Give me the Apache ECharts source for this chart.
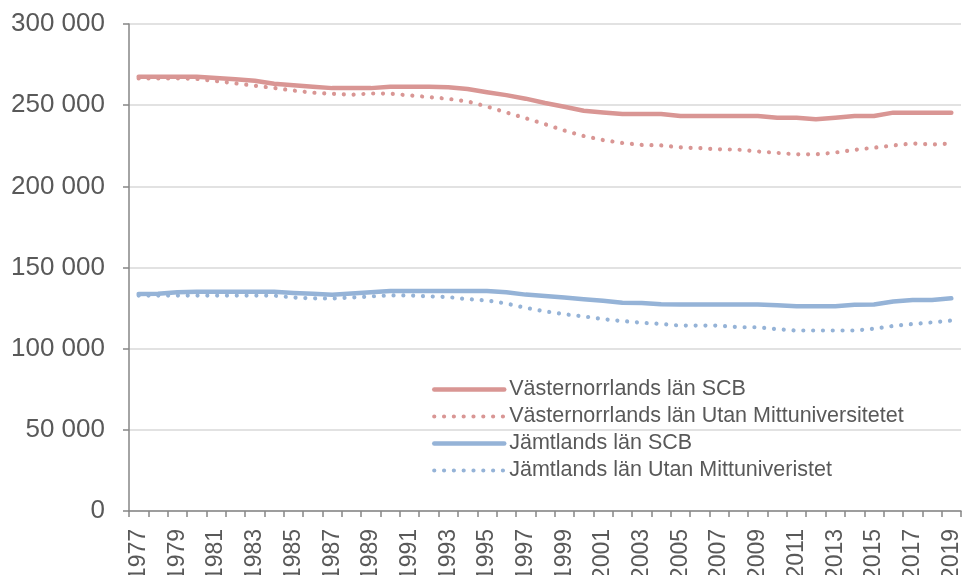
<!DOCTYPE html>
<html>
<head>
<meta charset="utf-8">
<script src="https://cdn.jsdelivr.net/npm/echarts@6/dist/echarts.min.js"></script>
<style>
html, body { margin: 0; padding: 0; background: #fff; }
#chart { width: 965px; height: 575px; }
</style>
</head>
<body>
<div id="chart"></div>
<script>
// år 1977-2019
var years = []
for (var y = 1977; y <= 2019; y++) {
    years.push(String(y))
}

var vnSCB = [267500, 267500, 267500, 267500, 266800, 266000, 265000, 263200, 262300, 261300,
    260500, 260500, 260500, 261400, 261400, 261400, 261000, 260000, 258000, 256200,
    254000, 251300, 249000, 246600, 245500, 244500, 244500, 244500, 243300, 243300,
    243300, 243300, 243300, 242300, 242300, 241300, 242300, 243300, 243300, 245400,
    245400, 245400, 245400]

var vnUtan = [266500, 266500, 266500, 266200, 264800, 263500, 262000, 260600, 259000, 257700,
    257000, 256400, 257200, 257100, 256000, 255000, 253900, 252300, 249200, 245500,
    242000, 238300, 234400, 231000, 228500, 226700, 225500, 225200, 224000, 223500,
    222800, 222600, 221500, 220600, 219700, 219700, 220800, 222500, 223800, 225200,
    226400, 225800, 226400]

var jtSCB = [133700, 133900, 134800, 135000, 135000, 135000, 135000, 135000, 134300, 133800,
    133200, 134000, 134800, 135500, 135600, 135600, 135600, 135600, 135500, 134800,
    133300, 132500, 131500, 130500, 129500, 128300, 128200, 127300, 127200, 127200,
    127200, 127200, 127200, 126800, 126200, 126100, 126100, 127000, 127200, 129000,
    130000, 130000, 131000]

var jtUtan = [132700, 132700, 132700, 132700, 132700, 132700, 132700, 132700, 131500, 131000,
    130900, 131500, 132200, 132800, 132800, 132200, 131800, 130500, 129700, 127800,
    125200, 123000, 121200, 119900, 118200, 117000, 116000, 115200, 114200, 114200,
    114200, 113200, 113200, 112000, 111200, 111200, 111200, 111200, 112300, 114000,
    115200, 116200, 117300]

var names = ['Västernorrlands län SCB', 'Västernorrlands län Utan Mittuniversitetet',
    'Jämtlands län SCB', 'Jämtlands län Utan Mittuniveristet']

var red = '#D99694'
var blue = '#95B3D7'
var textColor = '#595959'
var font = 'Liberation Sans, Arial, sans-serif'

var solidStyle = function(color) {
    return { color: color, width: 4.5, type: 'solid', cap: 'round', join: 'round' }
}
var dotStyle = function(color) {
    return { color: color, width: 4.2, type: [0.01, 9.8], cap: 'round' }
}

function line(name, data, style, z) {
    return {
        name: name,
        type: 'line',
        data: data,
        symbol: 'none',
        smooth: false,
        z: z,
        lineStyle: style,
        itemStyle: { color: style.color }
    }
}

var chart = echarts.init(document.getElementById('chart'), null, { renderer: 'canvas' })

chart.setOption({
    animation: false,
    backgroundColor: '#fff',
    textStyle: { fontFamily: font },
    grid: { left: 129, right: 4, top: 24, bottom: 64, containLabel: false, outerBoundsMode: 'none' },
    legend: {
        orient: 'vertical',
        left: 427,
        top: 371,
        itemWidth: 70,
        itemHeight: 14,
        itemGap: 0,
        itemStyle: { opacity: 0 },
        data: [
            { name: names[0], lineStyle: solidStyle(red) },
            { name: names[1], lineStyle: dotStyle(red) },
            { name: names[2], lineStyle: solidStyle(blue) },
            { name: names[3], lineStyle: dotStyle(blue) }
        ],
        textStyle: { color: textColor, fontSize: 21.5, fontFamily: font, lineHeight: 27 }
    },
    xAxis: {
        type: 'category',
        data: years,
        boundaryGap: true,
        axisLine: { lineStyle: { color: '#868686', width: 1.5 } },
        axisTick: { show: true, length: 6, interval: 0, alignWithLabel: false, lineStyle: { color: '#868686', width: 1.5 } },
        axisLabel: { interval: 1, rotate: 90, margin: 18, color: textColor, fontSize: 23, fontFamily: font },
        splitLine: { show: false }
    },
    yAxis: {
        type: 'value',
        min: 0,
        max: 300000,
        interval: 50000,
        axisLine: { show: true, lineStyle: { color: '#868686', width: 1.5 } },
        axisTick: { show: true, length: 6, lineStyle: { color: '#868686', width: 1.5 } },
        axisLabel: {
            margin: 24,
            color: textColor,
            fontSize: 26,
            fontFamily: font,
            formatter: function(v) {
                return String(v).replace(/\B(?=(\d{3})+(?!\d))/g, ' ')
            }
        },
        splitLine: { show: true, lineStyle: { color: '#D9D9D9', width: 1.5 } }
    },
    series: [
        line(names[0], vnSCB, solidStyle(red), 3),
        line(names[1], vnUtan, dotStyle(red), 2),
        line(names[2], jtSCB, solidStyle(blue), 3),
        line(names[3], jtUtan, dotStyle(blue), 2)
    ]
})
</script>
</body>
</html>
